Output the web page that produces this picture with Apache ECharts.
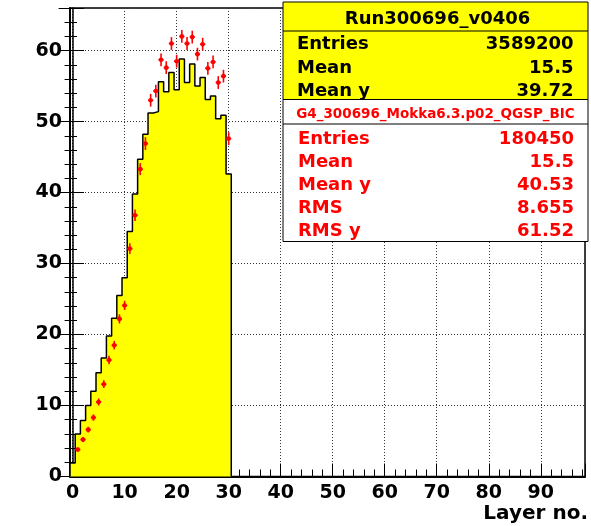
<!DOCTYPE html>
<html>
<head>
<meta charset="utf-8">
<script src="https://cdn.jsdelivr.net/npm/echarts@6/dist/echarts.min.js"></script>
<style>
html, body { margin: 0; padding: 0; background: #fff; }
#chart { width: 591px; height: 526px; }
</style>
</head>
<body>
<div id="chart"></div>
<script>
// data histogram (yellow), bins 0..30
const layers = [0, 1, 2, 3, 4, 5, 6, 7, 8, 9, 10, 11, 12, 13, 14, 15, 16, 17, 18, 19, 20, 21, 22, 23, 24, 25, 26, 27, 28, 29, 30];
const dataHist = [1.9, 6.0, 7.9, 10.0, 12.0, 14.6, 16.7, 19.8, 22.3, 25.5, 28.0, 34.5, 39.8, 44.7, 48.2, 51.2, 51.4, 55.6, 54.2, 56.9, 54.5, 58.8, 55.5, 58.1, 55.0, 56.2, 53.1, 53.6, 50.4, 50.9, 42.6];

// simulation points (red), layers 1..30
const simLayers = [1, 2, 3, 4, 5, 6, 7, 8, 9, 10, 11, 12, 13, 14, 15, 16, 17, 18, 19, 20, 21, 22, 23, 24, 25, 26, 27, 28, 29, 30];
const simValues = [3.8, 5.2, 6.6, 8.3, 10.5, 13.0, 16.4, 18.5, 22.2, 24.1, 32.1, 36.8, 43.3, 46.9, 53.0, 54.3, 58.7, 57.6, 61.0, 58.5, 62.0, 61.0, 61.9, 59.5, 60.9, 57.5, 58.4, 55.5, 56.4, 47.6];
const simErrors = [0.3, 0.35, 0.4, 0.45, 0.5, 0.55, 0.6, 0.6, 0.65, 0.65, 0.75, 0.8, 0.85, 0.9, 0.9, 0.9, 0.9, 0.9, 0.9, 0.9, 0.9, 0.9, 0.9, 0.9, 0.9, 0.9, 0.9, 0.9, 0.9, 0.9];

// stats boxes
const dataTitle = "Run300696_v0406";
const dataStatNames = ["Entries", "Mean", "Mean y"];
const dataStatValues = ["3589200", "15.5", "39.72"];
const simTitle = "G4_300696_Mokka6.3.p02_QGSP_BIC";
const simStatNames = ["Entries", "Mean", "Mean y", "RMS", "RMS y"];
const simStatValues = ["180450", "15.5", "40.53", "8.655", "61.52"];

const FONT = '"DejaVu Sans", "Liberation Sans", sans-serif';

// step outline: left edges of each bin, then back to 0 after the last one
const stepPts = [[layers[0] - 0.5, 0]];
layers.forEach((l, i) => stepPts.push([l - 0.5, dataHist[i]]));
stepPts.push([layers[layers.length - 1] + 0.5, 0]);

const simPts = simLayers.map((l, i) => [l, simValues[i], simErrors[i]]);

const chart = echarts.init(document.getElementById("chart"), null, { renderer: "canvas" });

const axisFont = { fontFamily: FONT, fontWeight: "bold", fontSize: 19, color: "#000" };

// stats graphic
const graphics = [];
graphics.push({ type: "rect", shape: { x: 283, y: 2, width: 305, height: 97.5 }, style: { fill: "#ffff00", stroke: "#000", lineWidth: 1 }, z: 100 });
graphics.push({ type: "line", shape: { x1: 283, y1: 31, x2: 588, y2: 31 }, style: { stroke: "#000", lineWidth: 1 }, z: 101 });
graphics.push({ type: "text", x: 437.5, y: 19.8, style: { text: dataTitle, font: 'bold 18px ' + FONT, fill: "#000", align: "center", verticalAlign: "middle" }, z: 102 });
dataStatNames.forEach((n, i) => {
  const y = 44.8 + i * 23.2;
  graphics.push({ type: "text", x: 297, y: y, style: { text: n, font: 'bold 18px ' + FONT, fill: "#000", align: "left", verticalAlign: "middle" }, z: 102 });
  graphics.push({ type: "text", x: 573.5, y: y, style: { text: dataStatValues[i], font: 'bold 18px ' + FONT, fill: "#000", align: "right", verticalAlign: "middle" }, z: 102 });
});
graphics.push({ type: "rect", shape: { x: 283, y: 99.5, width: 305, height: 142 }, style: { fill: "#fff", stroke: "#000", lineWidth: 1 }, z: 100 });
graphics.push({ type: "line", shape: { x1: 283, y1: 124, x2: 588, y2: 124 }, style: { stroke: "#000", lineWidth: 1 }, z: 101 });
graphics.push({ type: "text", x: 435.5, y: 114.3, style: { text: simTitle, font: 'bold 13.5px ' + FONT, fill: "#ff0000", align: "center", verticalAlign: "middle" }, z: 102 });
simStatNames.forEach((n, i) => {
  const y = 139.3 + i * 23.1;
  graphics.push({ type: "text", x: 298, y: y, style: { text: n, font: 'bold 18px ' + FONT, fill: "#ff0000", align: "left", verticalAlign: "middle" }, z: 102 });
  graphics.push({ type: "text", x: 574, y: y, style: { text: simStatValues[i], font: 'bold 18px ' + FONT, fill: "#ff0000", align: "right", verticalAlign: "middle" }, z: 102 });
});

chart.setOption({
  animation: false,
  backgroundColor: "#fff",
  grid: { left: 70, right: 6, top: 8, bottom: 49.5, show: true, borderColor: "#000", borderWidth: 1.5, backgroundColor: "transparent" },
  xAxis: {
    type: "value",
    min: -0.5,
    max: 98.5,
    splitNumber: 10,
    name: "Layer no.",
    nameLocation: "end",
    nameGap: 3,
    nameTextStyle: { fontFamily: FONT, fontWeight: "bold", fontSize: 20, color: "#000", align: "right", verticalAlign: "top", padding: [27, 0, 0, 0] },
    axisLine: { show: true, onZero: false, lineStyle: { color: "#000", width: 2 } },
    axisTick: { inside: true, length: 13, lineStyle: { color: "#000", width: 1 } },
    minorTick: { show: true, splitNumber: 5, length: 7, lineStyle: { color: "#000", width: 1 } },
    axisLabel: Object.assign({ margin: 7, showMinLabel: false, showMaxLabel: false }, axisFont),
    splitLine: { show: true, lineStyle: { color: "#333", width: 1, type: [1, 2] } }
  },
  yAxis: [
    {
      type: "value",
      min: 0,
      max: 66,
      interval: 10,
      axisLine: { show: true, onZero: false, lineStyle: { color: "#000", width: 2 } },
      axisTick: { inside: true, length: 14, lineStyle: { color: "#000", width: 1 } },
      minorTick: { show: true, splitNumber: 5, length: 7, lineStyle: { color: "#000", width: 1 } },
      axisLabel: Object.assign({ margin: 8, showMaxLabel: false, padding: [5, 0, 0, 0] }, axisFont),
      splitLine: { show: true, lineStyle: { color: "#333", width: 1, type: [1, 2] } }
    },
    {
      type: "value",
      position: "right",
      min: 0,
      max: 66,
      interval: 10,
      axisLine: { show: true, lineStyle: { color: "#000", width: 1.5 } },
      axisTick: { inside: true, length: 14, lineStyle: { color: "#000", width: 1 } },
      minorTick: { show: true, splitNumber: 5, length: 8, lineStyle: { color: "#000", width: 1 } },
      axisLabel: { show: false },
      splitLine: { show: false }
    }
  ],
  series: [
    {
      type: "line",
      data: stepPts,
      step: "end",
      symbol: "none",
      lineStyle: { color: "#000", width: 1.5 },
      areaStyle: { color: "#ffff00", opacity: 1 },
      z: 2
    },
    {
      type: "custom",
      data: simPts,
      encode: { x: 0, y: 1 },
      z: 5,
      renderItem: function (params, api) {
        const x = api.value(0), y = api.value(1), e = api.value(2);
        const c = api.coord([x, y]);
        const t = api.coord([x, y + e]);
        const b = api.coord([x, y - e]);
        const l = api.coord([x - 0.5, y]);
        const r = api.coord([x + 0.5, y]);
        const st = { stroke: "#ff0000", lineWidth: 1.6 };
        return {
          type: "group",
          children: [
            { type: "line", shape: { x1: t[0], y1: t[1], x2: b[0], y2: b[1] }, style: st },
            { type: "line", shape: { x1: l[0], y1: l[1], x2: r[0], y2: r[1] }, style: st },
            { type: "circle", shape: { cx: c[0], cy: c[1], r: 2.3 }, style: { fill: "#ff0000" } }
          ]
        };
      }
    }
  ],
  graphic: graphics
});
</script>
</body>
</html>
